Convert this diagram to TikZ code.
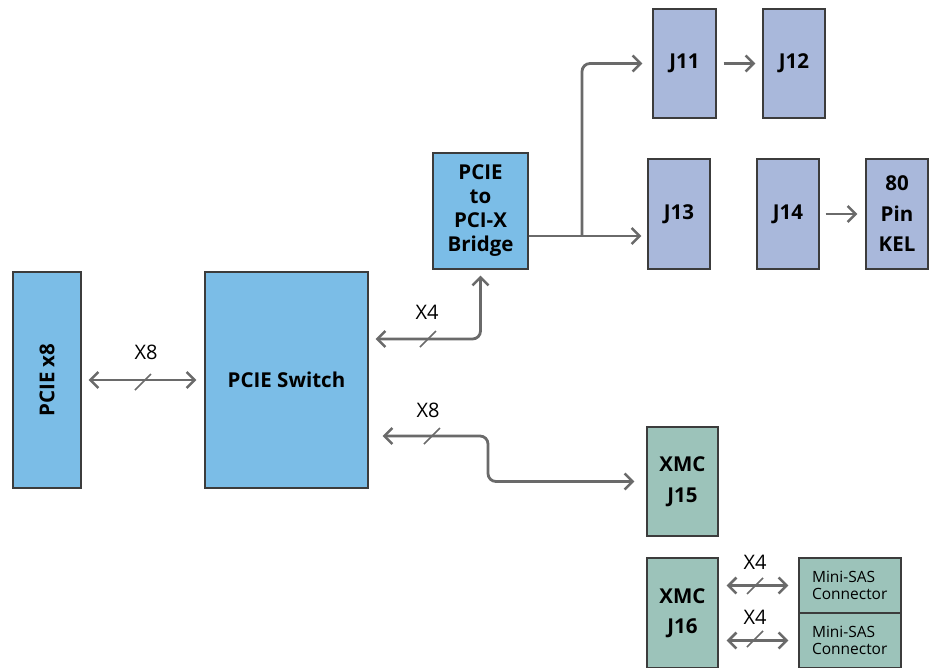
\documentclass[tikz,border=0pt]{standalone}
\usepackage{fontspec}
\setmainfont{Open Sans}
\usetikzlibrary{arrows.meta}
\definecolor{bluebox}{HTML}{7BBDE7}
\definecolor{jbox}{HTML}{A9B8DB}
\definecolor{xmcbox}{HTML}{9CC3BA}
\definecolor{edge}{HTML}{3C3C3C}
\definecolor{conn}{HTML}{6A6A6A}
\tikzset{
  blk/.style={draw=edge, line width=1.1pt, inner sep=0pt, align=center, font=\bfseries\fontsize{20.5}{24}\selectfont},
  tall/.style={font=\bfseries\fontsize{20.5}{30.5}\selectfont},
  bb/.style={blk, fill=bluebox},
  jb/.style={blk, fill=jbox},
  xb/.style={blk, fill=xmcbox},
  sas/.style={draw=edge, line width=1.1pt, fill=xmcbox, inner sep=0pt, minimum width=102pt, minimum height=55pt, text width=76pt, align=left, font=\fontsize{15.5}{16.5}\selectfont},
  conline/.style={draw=conn, line width=2.8pt, rounded corners=8pt},
  tip/.style={-{Straight Barb[length=8pt,width=16pt,line width=2.6pt]}},
  dtip/.style={{Straight Barb[length=8pt,width=16pt,line width=2.6pt]}-{Straight Barb[length=8pt,width=16pt,line width=2.6pt]}},
  slashmark/.style={draw=conn, line width=1.5pt},
  lbl/.style={font=\fontsize{20}{22}\selectfont, inner sep=0pt}
}
\begin{document}
\begin{tikzpicture}[x=1pt,y=-1pt]
\useasboundingbox (0,0) rectangle (936,667);
\clip (0,0) rectangle (936,667);
% boxes
\node[bb, minimum width=68pt, minimum height=216pt] (pcie) at (47,380) {\rotatebox{90}{PCIE x8}};
\node[bb, minimum width=163pt, minimum height=216pt] (sw) at (286.5,380) {PCIE Switch};
\node[bb, minimum width=95pt, minimum height=116pt] (br) at (480.5,211) {PCIE\\to\\PCI-X\\Bridge};
\node[jb, minimum width=63pt, minimum height=109pt] (j11) at (684.5,63.5) {J11};
\node[jb, minimum width=62pt, minimum height=109pt] (j12) at (794,63.5) {J12};
\node[jb, minimum width=62pt, minimum height=110pt] (j13) at (679,214) {J13};
\node[jb, minimum width=62pt, minimum height=110pt] (j14) at (788,214) {J14};
\node[jb, tall, minimum width=62pt, minimum height=110pt] (kel) at (897,214) {80\\Pin\\KEL};
\node[xb, tall, minimum width=71pt, minimum height=109pt] (j15) at (682.5,481.5) {XMC\\J15};
\node[xb, tall, minimum width=71pt, minimum height=110pt] (j16) at (682.5,613) {XMC\\J16};
\node[sas] (sas1) at (850,585.5) {Mini-SAS\\Connector};
\node[sas] (sas2) at (850,640.5) {Mini-SAS\\Connector};
% connectors
\draw[conline, dtip, shorten <=7pt, shorten >=8pt] (pcie.east) -- (sw.west);
\draw[slashmark] (135,390) -- (151,374);
\node[lbl] (l1) at (146,352) {X8};

\coordinate (c1) at ([yshift=41pt]sw.east);
\draw[conline, dtip, shorten <=7pt, shorten >=6pt] (c1) -| (br.south);
\draw[slashmark] (420,347) -- (436,331);
\node[lbl] (l2) at (427,312) {X4};

\coordinate (c2) at ([yshift=-56pt]sw.east);
\coordinate (k1) at (488,436);
\draw[conline, dtip, shorten <=14pt, shorten >=12pt] (c2) -- (k1) |- (j15.west);
\draw[slashmark] (424,444) -- (440,428);
\node[lbl] (l3) at (428,410) {X8};

\coordinate (c3) at ([yshift=-25pt]br.east);
\coordinate (c4) at (582,236);
\draw[conline, tip, shorten >=6pt] (c3) -- (c3 -| j13.west);
\draw[conline, tip, shorten >=10pt] (c4) |- (j11.west);

\draw[conline, tip, shorten <=7pt, shorten >=7pt] (j11.east) -- (j12.west);
\draw[conline, tip, shorten <=6pt, shorten >=8pt] (j14.east) -- (kel.west);

\draw[conline, dtip, shorten <=8pt, shorten >=10pt] (j16.east |- sas1.west) -- (sas1.west);
\draw[slashmark] (747,594) -- (763,578);
\node[lbl] (l4) at (755,562) {X4};
\draw[conline, dtip, shorten <=8pt, shorten >=10pt] (j16.east |- sas2.west) -- (sas2.west);
\draw[slashmark] (747,647) -- (763,631);
\node[lbl] (l5) at (755,617) {X4};
\end{tikzpicture}
\end{document}
